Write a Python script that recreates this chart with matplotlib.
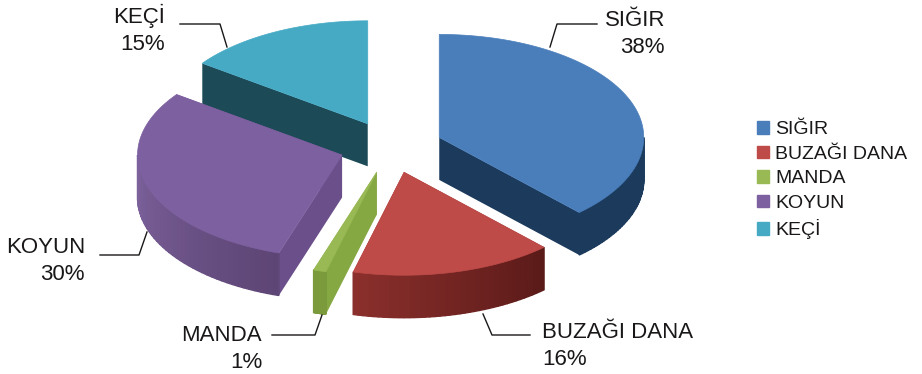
import numpy as np
import matplotlib
matplotlib.use("Agg")
import matplotlib.pyplot as plt
from matplotlib.patches import Patch

plt.rcParams['font.family'] = ['Liberation Sans', 'DejaVu Sans']

names = ['SIĞIR', 'BUZAĞI DANA', 'MANDA', 'KOYUN', 'KEÇİ']
values = [38, 16, 1, 30, 15]

top_colors = ['#4a7ebb', '#be4b48', '#98b954', '#7d60a0', '#46aac5']
wall_colors = ['#1b3a5c', '#5a1a18', '#86a843', '#6a4f8a', '#1c4a56']
arc_left = ['#1b3a5c', '#8a2f2c', '#7a9a3c', '#7d629c', '#1c4a56']
arc_right = ['#1b3a5c', '#5a1a18', '#7a9a3c', '#5d4575', '#1c4a56']

# layout in pixels
cx, cy = 391.2, 147.0
rx, ry = 204.5, 103.0
depth = 42.5
explode = 0.2527

fig = plt.figure(figsize=(9.22, 3.74), dpi=100)
ax = fig.add_axes([0, 0, 1, 1])
ax.set_xlim(0, 922)
ax.set_ylim(374, 0)
ax.axis('off')


def hex_rgb(c):
    return np.array(matplotlib.colors.to_rgb(c))


def arc_pts(x0, y0, t0, t1, n=80):
    t = np.radians(np.linspace(t0, t1, n))
    return x0 + rx * np.sin(t), y0 - ry * np.cos(t)


edges = np.cumsum([0] + values) * 3.6
slices = []
for i in range(len(values)):
    mid = np.radians((edges[i] + edges[i + 1]) / 2)
    x0 = cx + explode * rx * np.sin(mid)
    y0 = cy - explode * ry * np.cos(mid)
    slices.append((i, edges[i], edges[i + 1], x0, y0))

# back to front
for i, t0, t1, x0, y0 in [slices[4], slices[0], slices[3], slices[1], slices[2]]:
    # flat walls
    for t in (t0, t1):
        xa, ya = arc_pts(x0, y0, t, t, 1)
        ax.fill([x0, xa[0], xa[0], x0], [y0, ya[0], ya[0] + depth, y0 + depth],
                color=wall_colors[i], lw=0)
    # outer rim, only the front part shows
    lo, hi = max(t0, 90), min(t1, 270)
    if hi > lo:
        steps = np.linspace(lo, hi, 41)
        for k in range(40):
            xs, ys = arc_pts(x0, y0, steps[k], steps[k + 1], 4)
            f = k / 39
            c = hex_rgb(arc_right[i]) * (1 - f) + hex_rgb(arc_left[i]) * f
            ax.fill(np.r_[xs, xs[::-1]], np.r_[ys, ys[::-1] + depth], color=c, lw=1.0)
    xs, ys = arc_pts(x0, y0, t0, t1)
    ax.fill(np.r_[x0, xs], np.r_[y0, ys], color=top_colors[i], lw=0.5)

# callouts
label_pos = [(665, 21, 'right'), (542, 333, 'left'), (262, 336, 'right'),
             (85, 248, 'right'), (165, 15, 'right')]
leaders = [([597, 557, 550], [24, 24, 47]),
           ([530, 492, 483], [335, 335, 314]),
           ([272, 315, 322], [335, 335, 315]),
           ([100, 139, 147], [255, 255, 232]),
           ([180, 220, 227], [24, 24, 47])]
for i in range(len(names)):
    x, y, ha = label_pos[i]
    ax.text(x, y - 11, f"{names[i]}\n{values[i]}%", ha=ha, va='top', ma=ha,
            fontsize=16, color='#1a1718', linespacing=1.36)
    ax.plot(leaders[i][0], leaders[i][1], color='#1a1718', lw=1)

handles = [Patch(color=c) for c in top_colors]
ax.legend(handles, names, loc='upper left', bbox_to_anchor=(757, 121),
          bbox_transform=ax.transData, frameon=False, fontsize=14,
          handlelength=0.62, handleheight=0.62, handletextpad=0.3,
          labelspacing=0.38, borderpad=0, borderaxespad=0, labelcolor='#1a1718')

fig.savefig('out.png', dpi=100)
